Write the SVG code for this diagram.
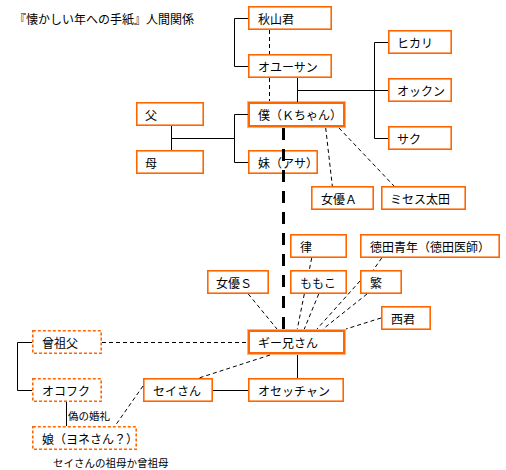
<svg xmlns="http://www.w3.org/2000/svg" width="506" height="470" viewBox="0 0 506 470">
<style>
text{font-family:"Noto Sans CJK JP","Noto Sans",sans-serif;font-size:12px;fill:#000}
.s{font-size:10.5px}
.b{fill:#fff;stroke:#FF6600;stroke-width:1.6}
.d{fill:#fff;stroke:#FF6600;stroke-width:1.6;stroke-dasharray:3 2}
.h{fill:#fff;stroke:#FFB080;stroke-width:1}
.t{fill:none;stroke:#FF6600;stroke-width:2}
.ln{fill:none;stroke:#000;stroke-width:1}
.dl{fill:none;stroke:#000;stroke-width:1;stroke-dasharray:4 3}
.th{fill:none;stroke:#000;stroke-width:3;stroke-dasharray:12 9}
</style>
<rect width="506" height="470" fill="#fff"/>
<text x="14" y="24">『懐かしい年への手紙』人間関係</text>

<g id="akiyama"><rect class="b" x="248.8" y="6.8" width="82.4" height="22.4"/><text x="258" y="23.5">秋山君</text></g>
<g id="oyusan"><rect class="b" x="248.8" y="54.8" width="82.4" height="22.4"/><text x="258" y="71.5">オユーサン</text></g>
<g id="boku"><rect class="h" x="247.5" y="101.5" width="98" height="26"/><rect class="t" x="249" y="103" width="95" height="23"/><text x="258" y="120">僕（Ｋちゃん）</text></g>
<g id="imouto"><rect class="b" x="248.8" y="150.8" width="68.4" height="22.4"/><text x="258" y="167.5">妹（アサ）</text></g>
<g id="chichi"><rect class="b" x="136.8" y="102.8" width="66.4" height="22.4"/><text x="145" y="119.5">父</text></g>
<g id="haha"><rect class="b" x="136.8" y="150.8" width="66.4" height="22.4"/><text x="145" y="167.5">母</text></g>
<g id="hikari"><rect class="b" x="388.8" y="30.8" width="62.4" height="22.4"/><text x="397" y="47.5">ヒカリ</text></g>
<g id="okkun"><rect class="b" x="388.8" y="78.8" width="62.4" height="22.4"/><text x="397" y="95.5">オックン</text></g>
<g id="saku"><rect class="b" x="388.8" y="126.8" width="62.4" height="22.4"/><text x="397" y="143.5">サク</text></g>
<g id="joyuA"><rect class="b" x="311.8" y="186.8" width="61.4" height="22.4"/><text x="321" y="203.5">女優Ａ</text></g>
<g id="mrsota"><rect class="b" x="381.8" y="186.8" width="83.4" height="22.4"/><text x="390" y="203.5">ミセス太田</text></g>
<g id="ritsu"><rect class="b" x="290.8" y="234.8" width="55.4" height="22.4"/><text x="300" y="251.5">律</text></g>
<g id="tokuda"><rect class="b" x="360.8" y="234.8" width="138.4" height="22.4"/><text x="370" y="251.5">徳田青年（徳田医師）</text></g>
<g id="joyuS"><rect class="b" x="207.8" y="270.8" width="60.4" height="22.4"/><text x="216" y="287.5">女優Ｓ</text></g>
<g id="momoko"><rect class="b" x="290.8" y="270.8" width="55.4" height="22.4"/><text x="300" y="287.5">ももこ</text></g>
<g id="shigeru"><rect class="b" x="360.8" y="270.8" width="40.4" height="22.4"/><text x="370" y="287.5">繁</text></g>
<g id="nishi"><rect class="b" x="381.8" y="306.8" width="48.4" height="22.4"/><text x="391" y="323.5">西君</text></g>
<g id="giiniisan"><rect class="h" x="247.5" y="329.5" width="98" height="25"/><rect class="t" x="249" y="331" width="95" height="22"/><text x="258" y="347.5">ギー兄さん</text></g>
<g id="sosofu"><rect class="d" x="32.8" y="330.8" width="68.4" height="22.4"/><text x="42" y="347.5">曾祖父</text></g>
<g id="okofuku"><rect class="d" x="32.8" y="378.8" width="68.4" height="22.4"/><text x="42" y="395.5">オコフク</text></g>
<g id="musume"><rect class="d" x="32.8" y="426.8" width="103.4" height="22.4"/><text x="42" y="443.5">娘（ヨネさん？）</text></g>
<g id="seisan"><rect class="b" x="143.8" y="378.8" width="68.4" height="22.4"/><text x="153" y="395.5">セイさん</text></g>
<g id="osecchan"><rect class="b" x="248.8" y="378.8" width="94.4" height="22.4"/><text x="258" y="395.5">オセッチャン</text></g>

<g id="connectors">
<path class="ln" d="M248,18.5H234.5V66.5H248"/>
<path class="ln" d="M297.5,78V102M297.5,90.5H374.5M374.5,42.5V138.5M374.5,42.5H388M374.5,90.5H388M374.5,138.5H388"/>
<path class="ln" d="M171.5,126V150M171.5,138.5H234.5M248,114.5H234.5V162.5H248"/>
<path class="ln" d="M32,342.5H17.5V390.5H32"/>
<path class="ln" d="M66.5,402V426"/>
<path class="ln" d="M297.5,355V378"/>
<path class="ln" d="M213,390.5H248"/>
<path class="dl" d="M269.5,30V54M269.5,78V101"/>
<path class="dl" d="M325.7,128L332.3,186"/>
<path class="dl" d="M339,128L394,186"/>
<path class="dl" d="M102,342.5H247"/>
<path class="dl" d="M270,355L199,378"/>
<path class="dl" d="M143,386L115,426"/>
<path class="dl" d="M248.3,294L277,329"/>
<path class="dl" d="M304.3,294L297.3,329"/>
<path class="dl" d="M318.7,294L304.3,329"/>
<path class="dl" d="M311.7,258L309.3,270"/>
<path class="dl" d="M381.7,258L373.3,270"/>
<path class="dl" d="M360,281L317,329"/>
<path class="dl" d="M367,294L323,329"/>
<path class="dl" d="M381,318L346,329"/>
<path class="th" d="M283.5,128V329"/>
</g>
<text class="s" x="68" y="420">偽の婚礼</text>
<text class="s" x="53" y="467">セイさんの祖母か曾祖母</text>
</svg>
